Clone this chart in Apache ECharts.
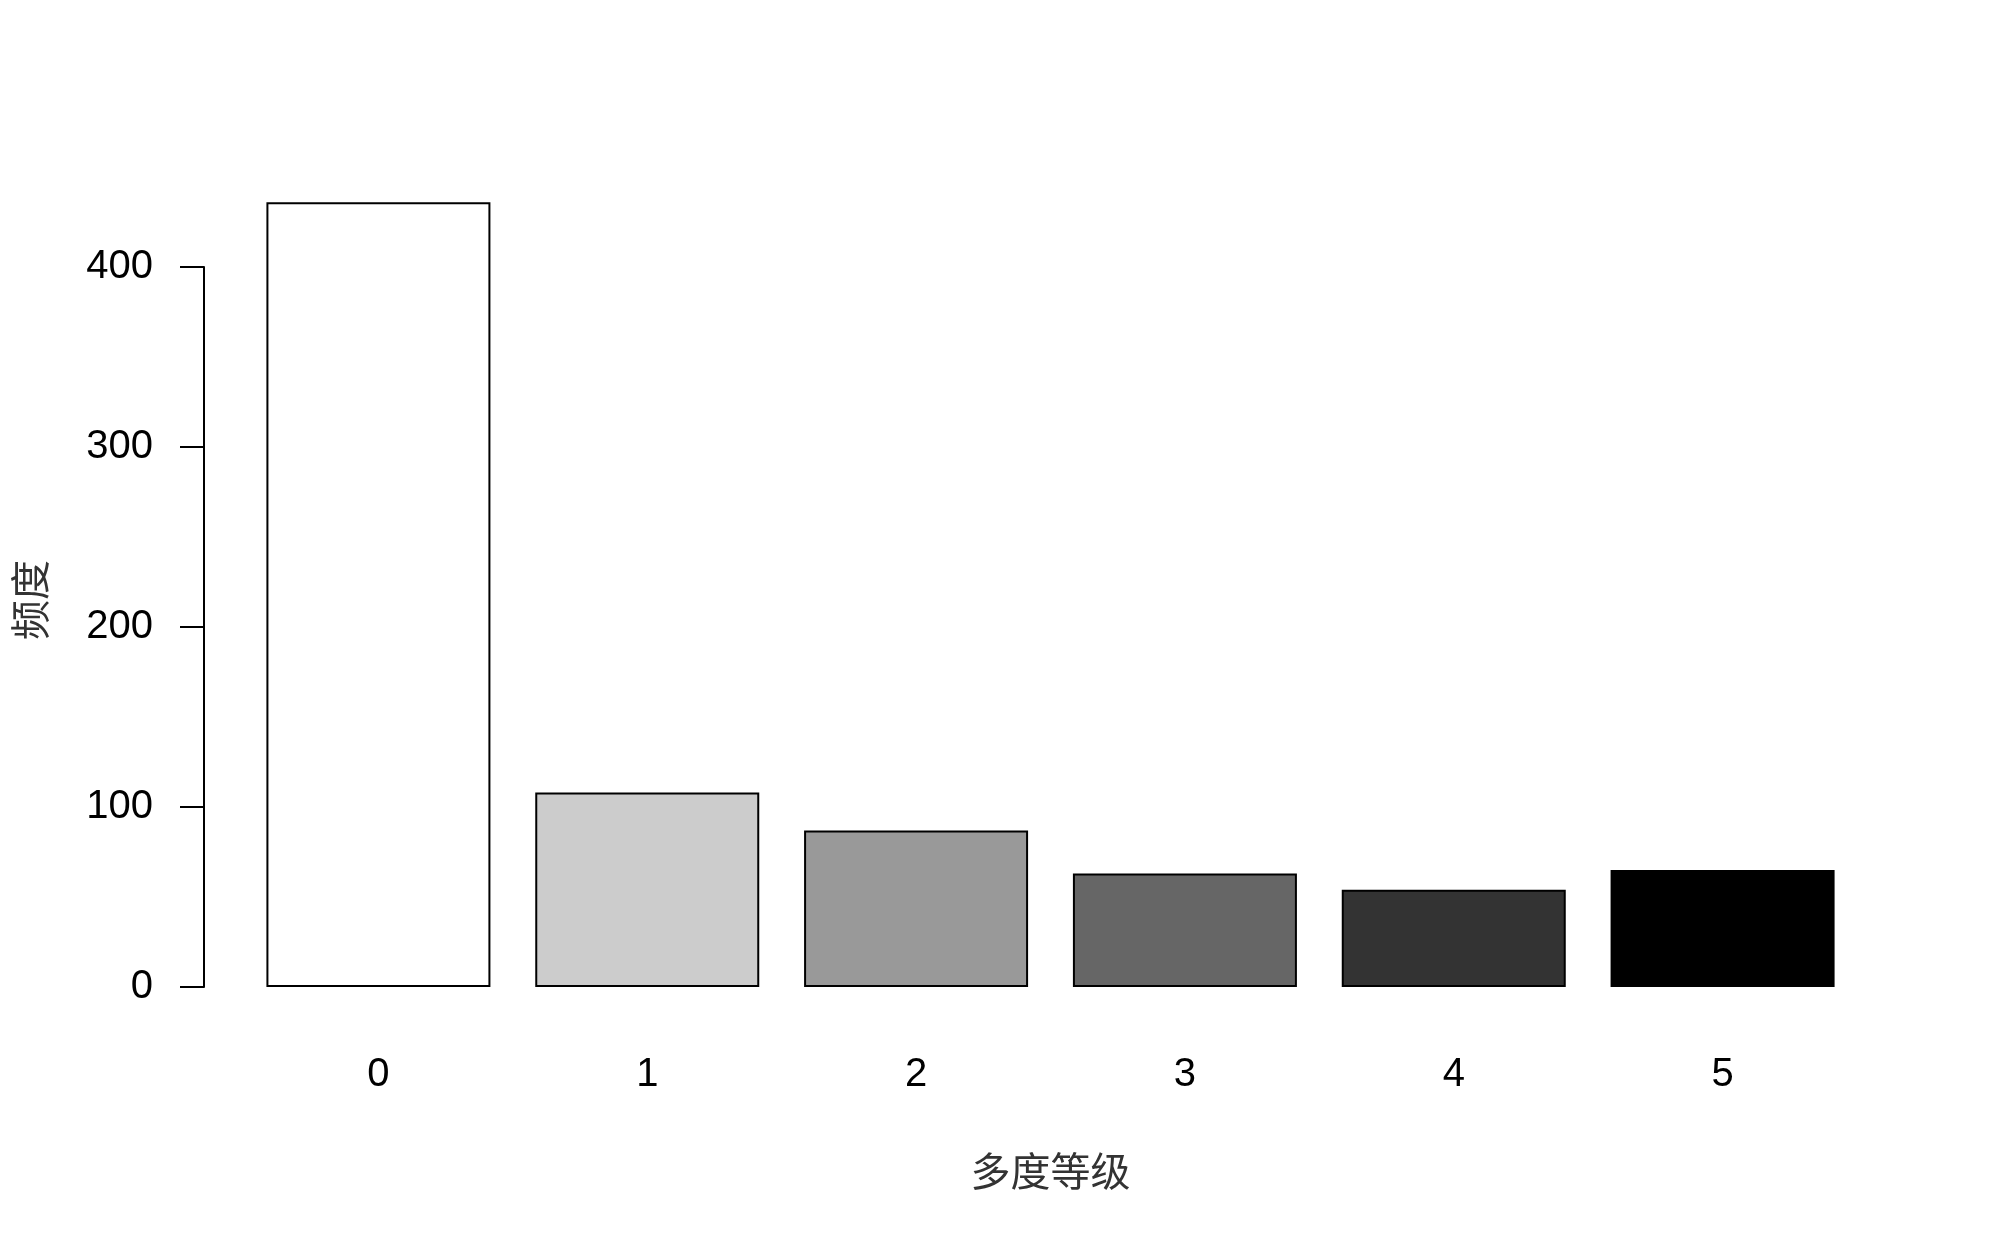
<!DOCTYPE html>
<html>
<head>
<meta charset="utf-8">
<title>多度等级</title>
<script src="https://cdn.jsdelivr.net/npm/echarts@6/dist/echarts.min.js"></script>
<style>
  html, body { margin: 0; padding: 0; background: #fff; }
  #main { width: 2000px; height: 1250px; }
</style>
</head>
<body>
<div id="main"></div>
<script>
// 数据
const levels = ['0', '1', '2', '3', '4', '5'];
const freq = [436, 108, 87, 63, 54, 65];
const yTicks = [0, 100, 200, 300, 400];
// 灰度填充
const shades = ['#ffffff', '#cccccc', '#999999', '#666666', '#333333', '#000000'];

var myChart = echarts.init(document.getElementById('main'));

var option = {
    backgroundColor: '#ffffff',
    animation: false,
    grid: {
        left: 244,
        right: 143,
        top: 267,
        bottom: 263
    },
    xAxis: {
        type: 'category',
        data: levels,
        boundaryGap: true,
        axisLine: { show: false },
        axisTick: { show: false },
        axisLabel: {
            margin: 68,
            fontSize: 40,
            color: '#000',
            fontFamily: 'Liberation Sans'
        },
        name: '多度等级',
        nameLocation: 'middle',
        nameGap: 164,
        nameTextStyle: {
            fontSize: 40,
            color: '#333',
            fontFamily: 'Noto Sans CJK SC'
        }
    },
    yAxis: {
        type: 'value',
        min: yTicks[0],
        max: yTicks[yTicks.length - 1],
        interval: 100,
        offset: 40,
        splitLine: { show: false },
        axisLine: { show: true, lineStyle: { color: '#000', width: 2 } },
        axisTick: { show: true, length: 24, lineStyle: { color: '#000', width: 2 } },
        axisLabel: {
            margin: 51,
            fontSize: 40,
            color: '#000',
            fontFamily: 'Liberation Sans',
            padding: [4, 0, 0, 0]
        },
        name: '频度',
        nameLocation: 'middle',
        nameRotate: 90,
        nameGap: 154,
        nameTextStyle: {
            fontSize: 40,
            color: '#333',
            fontFamily: 'Noto Sans CJK SC',
            padding: [0, 0, 0, 54]
        }
    },
    series: [{
        type: 'bar',
        clip: false,
        barWidth: 224,
        data: freq.map(function (v, i) {
            return {
                value: v,
                itemStyle: { color: shades[i] }
            };
        }),
        itemStyle: {
            borderColor: '#000',
            borderWidth: 2
        }
    }]
};

myChart.setOption(option);
</script>
</body>
</html>
